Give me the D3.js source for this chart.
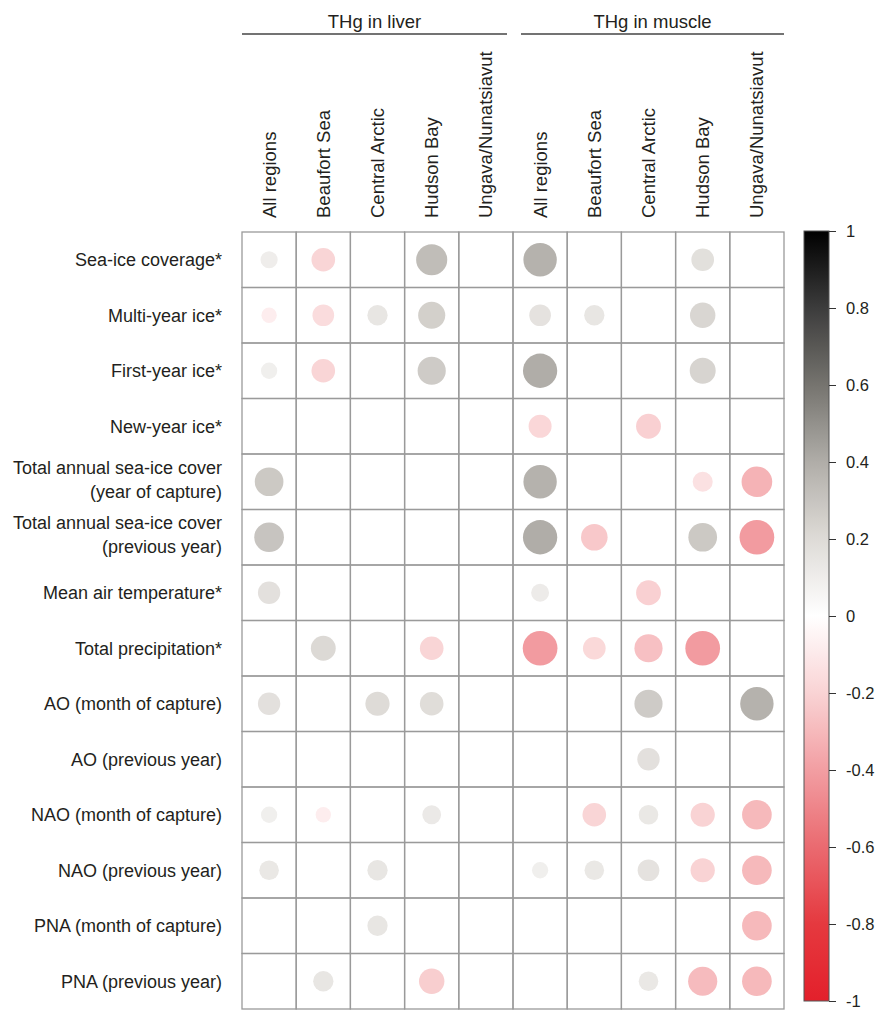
<!DOCTYPE html>
<html>
<head>
<meta charset="utf-8">
<script src="https://cdn.jsdelivr.net/npm/d3@7"></script>
<style>
  body { margin: 0; background: #fff; }
  text { font-family: "Liberation Sans", Arial, sans-serif; fill: #231f20; }
</style>
</head>
<body>
<div id="chart"></div>
<script>
// row variables (two-line labels are split)
const rowLabels = [
  ["Sea-ice coverage*"],
  ["Multi-year ice*"],
  ["First-year ice*"],
  ["New-year ice*"],
  ["Total annual sea-ice cover", "(year of capture)"],
  ["Total annual sea-ice cover", "(previous year)"],
  ["Mean air temperature*"],
  ["Total precipitation*"],
  ["AO (month of capture)"],
  ["AO (previous year)"],
  ["NAO (month of capture)"],
  ["NAO (previous year)"],
  ["PNA (month of capture)"],
  ["PNA (previous year)"]
];
const regions = ["All regions", "Beaufort Sea", "Central Arctic", "Hudson Bay", "Ungava/Nunatsiavut"];
const tissues = ["THg in liver", "THg in muscle"];

// correlation per row, one value per region (null = not shown)
const liverValues = [
  [0.10, -0.19, null, 0.33, null],
  [-0.08, -0.16, 0.14, 0.25, null],
  [0.09, -0.19, null, 0.27, null],
  [null, null, null, null, null],
  [0.28, null, null, null, null],
  [0.30, null, null, null, null],
  [0.17, null, null, null, null],
  [null, 0.21, null, -0.19, null],
  [0.17, null, 0.20, 0.19, null],
  [null, null, null, null, null],
  [0.09, -0.08, null, 0.12, null],
  [0.13, null, 0.14, null, null],
  [null, null, 0.14, null, null],
  [null, 0.14, null, -0.22, null]
];
const muscleValues = [
  [0.38, null, null, 0.175, null],
  [0.16, 0.14, null, 0.22, null],
  [0.40, null, null, 0.23, null],
  [-0.18, null, -0.21, null, null],
  [0.38, null, null, -0.137, -0.32],
  [0.40, -0.24, null, 0.28, -0.41],
  [0.11, null, -0.21, null, null],
  [-0.41, -0.175, -0.27, -0.41, null],
  [null, null, 0.27, null, 0.38],
  [null, null, 0.17, null, null],
  [null, -0.19, 0.13, -0.20, -0.30],
  [0.09, 0.13, 0.16, -0.20, -0.30],
  [null, null, null, null, -0.30],
  [null, null, 0.13, -0.29, -0.30]
];
const legendTicks = [1, 0.8, 0.6, 0.4, 0.2, 0, -0.2, -0.4, -0.6, -0.8, -1];

const W = 878, H = 1011;
const grid = { left: 242, top: 232, right: 784, bottom: 1009 };

const svg = d3.select('#chart').append('svg')
  .attr('width', W).attr('height', H);

const colKeys = d3.range(regions.length * tissues.length);
const x = d3.scaleBand().domain(colKeys).range([grid.left, grid.right]);
const y = d3.scaleBand().domain(d3.range(rowLabels.length)).range([grid.top, grid.bottom]);
const r = d3.scaleSqrt().domain([0, 1]).range([0, x.bandwidth() / 2]);

const color = d3.scaleLinear()
  .domain([-1, -0.8, -0.6, -0.4, -0.2, 0, 0.2, 0.4, 0.6, 0.8, 1])
  .range(['#e3202b', '#e5393f', '#ea6a70', '#f29ea2', '#f9d3d4', '#ffffff',
          '#dedbd7', '#b0ada8', '#76746f', '#3c3c3c', '#000000']);

// cells
const cells = [];
rowLabels.forEach((_, i) => {
  [liverValues, muscleValues].forEach((tbl, t) => {
    tbl[i].forEach((v, j) => cells.push({ row: i, col: t * regions.length + j, v: v }));
  });
});

svg.append('g').selectAll('rect')
  .data(cells)
  .enter().append('rect')
  .attr('x', d => x(d.col))
  .attr('y', d => y(d.row))
  .attr('width', x.bandwidth())
  .attr('height', y.bandwidth())
  .attr('fill', 'none')
  .attr('stroke', '#9a9a9a')
  .attr('stroke-width', 1.3);

svg.append('g').selectAll('circle')
  .data(cells.filter(d => d.v !== null))
  .enter().append('circle')
  .attr('cx', d => x(d.col) + x.bandwidth() / 2)
  .attr('cy', d => y(d.row) + y.bandwidth() / 2)
  .attr('r', d => r(Math.abs(d.v)))
  .attr('fill', d => color(d.v));

// row labels
const rl = svg.append('g').selectAll('text')
  .data(rowLabels)
  .enter().append('text')
  .attr('text-anchor', 'end')
  .attr('font-size', 18);
rl.each(function (lines, i) {
  const cy = y(i) + y.bandwidth() / 2;
  const base = lines.length === 1 ? [cy + 6.5] : [cy - 8, cy + 16];
  d3.select(this).selectAll('tspan')
    .data(lines)
    .enter().append('tspan')
    .attr('x', 222)
    .attr('y', (d, k) => base[k])
    .text(d => d);
});

// column labels
svg.append('g').selectAll('text')
  .data(colKeys)
  .enter().append('text')
  .attr('font-size', 18.5)
  .attr('text-anchor', 'start')
  .attr('transform', d => `translate(${x(d) + x.bandwidth() / 2 + 6.5},218) rotate(-90)`)
  .text(d => regions[d % regions.length]);

// tissue headers
const mid = x(regions.length);
const headerSpans = [[grid.left, mid - 6], [mid + 8, grid.right]];
tissues.forEach((t, k) => {
  const [a, b] = headerSpans[k];
  svg.append('line')
    .attr('x1', a).attr('x2', b)
    .attr('y1', 34).attr('y2', 34)
    .attr('stroke', '#444').attr('stroke-width', 1.5);
  svg.append('text')
    .attr('x', (a + b) / 2).attr('y', 28)
    .attr('text-anchor', 'middle')
    .attr('font-size', 18.5)
    .text(t);
});

// color legend
const lg = { x: 804, w: 25, top: 231, bottom: 1001 };
const ly = d3.scaleLinear().domain([-1, 1]).range([lg.bottom, lg.top]);

const grad = svg.append('defs').append('linearGradient')
  .attr('id', 'cbar').attr('x1', 0).attr('x2', 0).attr('y1', 1).attr('y2', 0);
grad.selectAll('stop')
  .data(d3.range(-1, 1.0001, 0.05))
  .enter().append('stop')
  .attr('offset', d => (d + 1) / 2)
  .attr('stop-color', d => color(d));

svg.append('rect')
  .attr('x', lg.x).attr('y', lg.top)
  .attr('width', lg.w).attr('height', lg.bottom - lg.top)
  .attr('fill', 'url(#cbar)')
  .attr('stroke', '#555').attr('stroke-width', 1);

const axis = svg.append('g')
  .attr('transform', `translate(${lg.x + lg.w},0)`)
  .call(d3.axisRight(ly)
    .tickValues(legendTicks)
    .tickSize(7)
    .tickPadding(10)
    .tickFormat(d => String(+d.toFixed(1))));
axis.select('.domain').remove();
axis.selectAll('line').attr('stroke', '#333');
axis.selectAll('text')
  .attr('font-size', 16.5)
  .attr('font-family', '"Liberation Sans", Arial, sans-serif')
  .attr('fill', '#231f20');
</script>
</body>
</html>
